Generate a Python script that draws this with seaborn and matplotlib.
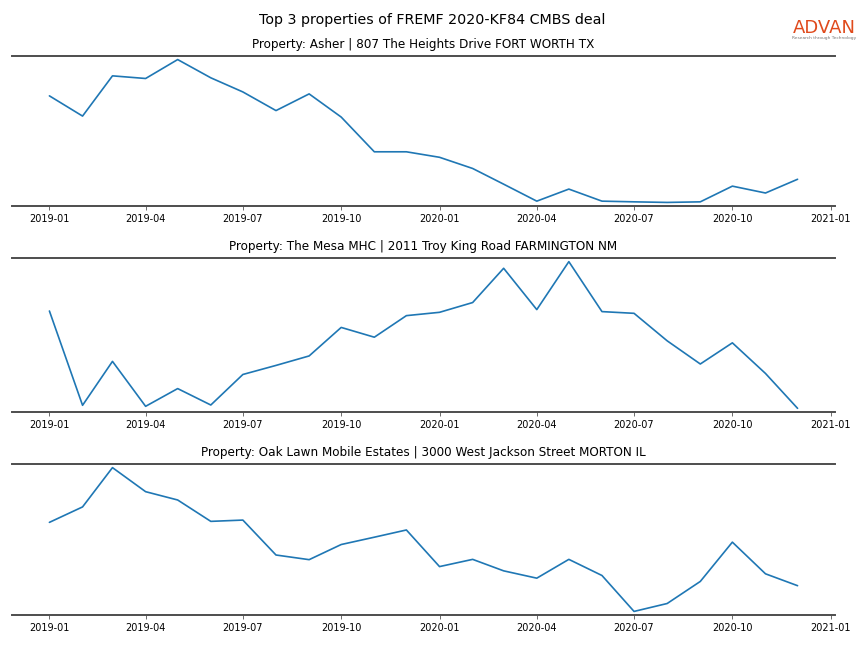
import pandas as pd
import matplotlib.pyplot as plt
import matplotlib.dates as mdates
import seaborn as sns

# STYLE
sns.set_style("white")
plt.rcParams.update({
    "font.family": ["DejaVu Sans"],
    "text.color": "black",
    "xtick.color": "black",
})

# DATA (relative monthly foot-traffic index)
MONTHS = pd.date_range("2019-01-01", "2020-12-01", freq="MS")

TITLES = [
    "Property: Asher | 807 The Heights Drive FORT WORTH TX",
    "Property: The Mesa MHC | 2011 Troy King Road FARMINGTON NM",
    "Property: Oak Lawn Mobile Estates | 3000 West Jackson Street MORTON IL",
]

asher = [110.0, 89.4, 130.4, 127.7, 147.0, 128.4, 114.0, 95.0, 112.0, 88.4,
         53.0, 53.0, 47.4, 36.0, 20.0, 2.7, 15.0, 2.7, 2.0, 1.4,
         2.0, 18.0, 11.0, 25.0]

mesa = [101.3, 7.7, 51.3, 6.7, 24.3, 8.0, 38.3, 47.3, 56.7, 85.0,
        75.3, 96.7, 100.0, 109.7, 143.7, 102.7, 150.3, 100.7, 99.0, 71.7,
        48.7, 69.7, 39.3, 4.7]

oak_lawn = [92.4, 108.0, 147.7, 123.4, 115.0, 93.4, 94.7, 59.4, 54.7, 70.0,
            77.4, 84.7, 47.7, 55.0, 43.4, 36.0, 55.0, 38.7, 2.4, 10.4,
            32.7, 72.4, 40.4, 28.4]

SERIES = [asher, mesa, oak_lawn]

# axes boxes (left, bottom, width, height) in figure fractions
BOXES = [
    (0.0139, 0.6821, 0.9525, 0.2315),
    (0.0139, 0.3642, 0.9525, 0.2377),
    (0.0139, 0.0509, 0.9525, 0.2330),
]


def plot_properties():

    fig = plt.figure(figsize=(8.64, 6.48), dpi=100)

    for box, values, title in zip(BOXES, SERIES, TITLES):
        ax = fig.add_axes(box)
        df = pd.DataFrame({"month": MONTHS, "value": values})
        sns.lineplot(data=df, x="month", y="value", ax=ax,
                     color="#1f77b4", linewidth=1.2)

        ax.margins(y=0.025)
        ax.set_title(title, fontsize=8.65)
        ax.set_xlabel("")
        ax.set_ylabel("")
        ax.set_yticks([])

        ax.xaxis.set_major_locator(mdates.MonthLocator(bymonth=[1, 4, 7, 10]))
        ax.xaxis.set_major_formatter(mdates.DateFormatter("%Y-%m"))
        ax.tick_params(axis="x", bottom=True, length=3, width=0.6,
                       color="#555555", labelsize=7, pad=3)

        for side in ["left", "right"]:
            ax.spines[side].set_visible(False)
        for side in ["top", "bottom"]:
            ax.spines[side].set_color("#4d4d4d")
            ax.spines[side].set_linewidth(1.4)

    fig.suptitle("Top 3 properties of FREMF 2020-KF84 CMBS deal", fontsize=10.3)

    # logo
    fig.text(0.954, 0.957, "ADVAN", color="#e04a1c", fontsize=13,
             ha="center", va="center")
    fig.text(0.954, 0.941, "Research through Technology", color="#777777",
             fontsize=3.2, ha="center", va="center")

    plt.savefig("out.png")
    plt.close()


if __name__ == "__main__":
    plot_properties()
